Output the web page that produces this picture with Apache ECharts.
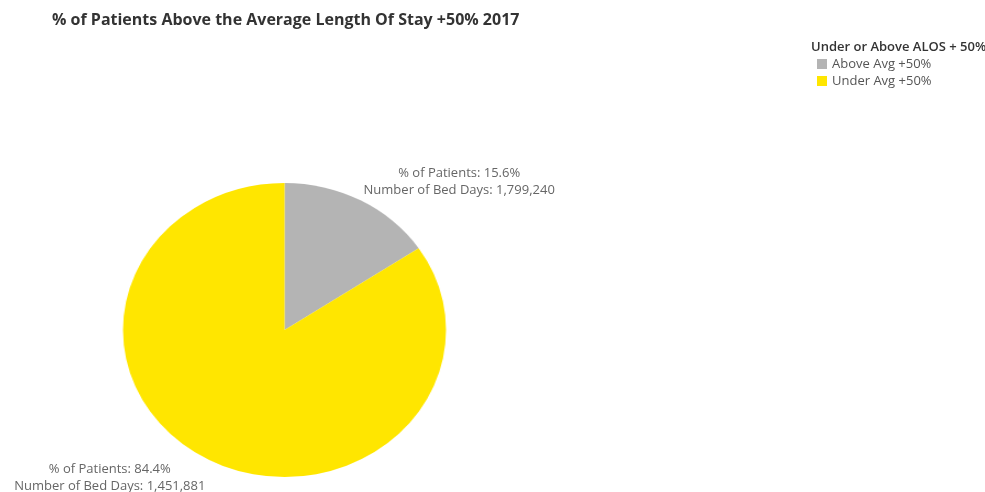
<!DOCTYPE html>
<html>
<head>
<meta charset="utf-8">
<script src="https://cdn.jsdelivr.net/npm/echarts@6/dist/echarts.min.js"></script>
<style>
  html, body { margin: 0; padding: 0; background: #fff; }
  #wrap { position: relative; width: 985px; height: 492px; overflow: hidden; }
  #pie, #main { position: absolute; left: 0; top: 0; width: 985px; height: 492px; }
  /* the pie is drawn slightly wider than tall */
  #pie { transform: scaleX(1.0986); transform-origin: 284.5px 330px; }
</style>
</head>
<body>
<div id="wrap">
  <div id="pie"></div>
  <div id="main"></div>
</div>
<script>
// Patients split by the ALOS + 50% threshold, 2017
const categories = ['Above Avg +50%', 'Under Avg +50%'];
const patientShare = [15.6, 84.4];          // % of patients
const bedDays = [1799240, 1451881];         // number of bed days
const colors = ['#b4b4b4', '#ffe600'];

const FONT = '"Open Sans", "DejaVu Sans", sans-serif';
const CENTER = [284.5, 330];
const RADIUS = 147;

const pieData = categories.map((name, i) => ({
  name: name,
  value: patientShare[i],
  bedDays: bedDays[i],
  itemStyle: { color: colors[i] }
}));

function fmtInt(n) {
  return n.toString().replace(/\B(?=(\d{3})+(?!\d))/g, ',');
}

// Slices (stretched container)
const pieChart = echarts.init(document.getElementById('pie'), null, { renderer: 'canvas' });
pieChart.setOption({
  animation: false,
  series: [{
    type: 'pie',
    center: CENTER,
    radius: RADIUS,
    startAngle: 90,
    clockwise: true,
    silent: true,
    label: { show: false },
    labelLine: { show: false },
    data: pieData
  }]
});

// Title, legend and value labels
const mainChart = echarts.init(document.getElementById('main'), null, { renderer: 'canvas' });
mainChart.setOption({
  animation: false,
  title: [{
    text: '% of Patients Above the Average Length Of Stay +50% 2017',
    left: 52,
    top: 12,
    padding: 0,
    textStyle: { fontFamily: FONT, fontSize: 16, fontWeight: 'bold', color: '#333333' }
  }, {
    text: 'Under or Above ALOS + 50%',
    left: 811,
    top: 41,
    padding: 0,
    textStyle: { fontFamily: FONT, fontSize: 13, fontWeight: 600, color: '#333333' }
  }],
  legend: {
    orient: 'vertical',
    left: 817,
    top: 57,
    padding: 0,
    itemWidth: 10,
    itemHeight: 10,
    itemGap: 3,
    icon: 'rect',
    selectedMode: false,
    textStyle: { fontFamily: FONT, fontSize: 13, color: '#555555', lineHeight: 14 },
    data: categories.map((name, i) => ({ name: name, itemStyle: { color: colors[i] } }))
  },
  series: [{
    type: 'pie',
    center: CENTER,
    radius: RADIUS,
    startAngle: 90,
    clockwise: true,
    silent: true,
    avoidLabelOverlap: false,
    itemStyle: { color: 'rgba(0,0,0,0)' },
    label: {
      show: true,
      position: 'outside',
      alignTo: 'none',
      distanceToLabelLine: 0,
      fontFamily: FONT,
      fontSize: 13,
      lineHeight: 17,
      color: '#666666',
      formatter: p => '% of Patients: ' + p.value.toFixed(1) + '%\nNumber of Bed Days: ' + fmtInt(p.data.bedDays)
    },
    labelLine: { show: false, length: 21, length2: 0 },
    labelLayout: p => ({
      x: p.labelRect.x + p.labelRect.width / 2,
      y: p.labelRect.y + p.labelRect.height / 2,
      align: 'center',
      verticalAlign: 'middle'
    }),
    data: pieData.map(d => Object.assign({}, d, { itemStyle: { color: 'rgba(0,0,0,0)' } }))
  }]
});
</script>
</body>
</html>
